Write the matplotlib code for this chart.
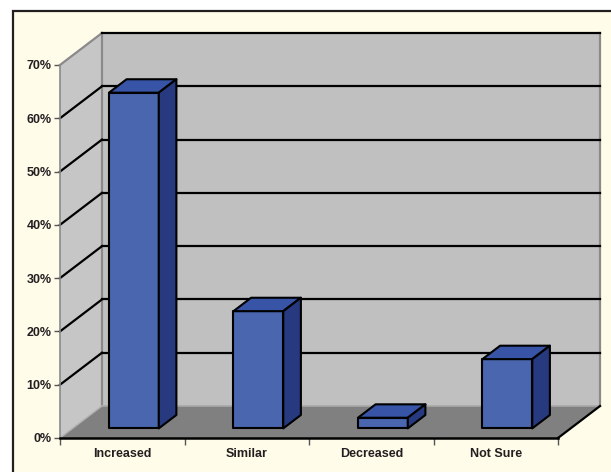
import matplotlib
matplotlib.use("Agg")
import matplotlib.pyplot as plt
from matplotlib.patches import Polygon, Rectangle

categories = ["Increased", "Similar", "Decreased", "Not Sure"]
values = [63, 22, 2, 13]
ytick_values = [0, 10, 20, 30, 40, 50, 60, 70]
ytick_labels = ["0%", "10%", "20%", "30%", "40%", "50%", "60%", "70%"]

plt.rcParams['font.family'] = ['Liberation Sans', 'DejaVu Sans']

W, H = 611, 472
fig = plt.figure(figsize=(W / 100, H / 100), dpi=100)
fig.patch.set_facecolor("white")

# cream panel with border (top and left visible)
panel = Rectangle((13 / W, -0.1), 1.0, (H - 11) / H + 0.1, transform=fig.transFigure,
                  facecolor="#FFFCEA", edgecolor="#231F20", linewidth=1.6, zorder=0)
fig.add_artist(panel)

ax_left, ax_right, ax_bottom, ax_top = 60, 600, 438, 33
ax = fig.add_axes([ax_left / W, (H - ax_bottom) / H, (ax_right - ax_left) / W, (ax_bottom - ax_top) / H])
ax.patch.set_visible(False)

n = len(categories)
ymax = 70
DX = 0.3373   # depth offset in category units
DY = 6.0      # depth offset in value units
ax.set_xlim(0, n + DX)
ax.set_ylim(0, ymax + DY)

wall_back = "#C0C0C0"
wall_left = "#C6C6C6"
floor_c = "#808080"
edge_gray = "#8A8A8A"

# walls and floor
ax.add_patch(Polygon([(DX, DY), (n + DX, DY), (n + DX, ymax + DY), (DX, ymax + DY)],
                     closed=True, facecolor=wall_back, edgecolor="none", zorder=1))
ax.add_patch(Polygon([(0, 0), (0, ymax), (DX, ymax + DY), (DX, DY)],
                     closed=True, facecolor=wall_left, edgecolor="none", zorder=1))
ax.add_patch(Polygon([(0, 0), (n, 0), (n + DX, DY), (DX, DY)],
                     closed=True, facecolor=floor_c, edgecolor="none", zorder=1))

# wall edges
ax.plot([DX, DX], [DY, ymax + DY], color=edge_gray, lw=1.6, zorder=2, clip_on=False)
ax.plot([n + DX, n + DX], [DY, ymax + DY], color=edge_gray, lw=1.6, zorder=2, clip_on=False)
ax.plot([0, DX], [ymax, ymax + DY], color=edge_gray, lw=1.6, zorder=2, clip_on=False)
ax.plot([DX, n + DX], [DY, DY], color="#A8A8A8", lw=1.2, zorder=2, clip_on=False)
ax.plot([0, DX], [0, DY], color="#B0B0B0", lw=1.0, zorder=2, clip_on=False)

# gridlines
for v in ytick_values[1:]:
    ax.plot([DX, n + DX], [v + DY, v + DY], color="black", lw=1.6, zorder=3, clip_on=False)
    if v < ymax:
        ax.plot([0, DX], [v, v + DY], color="black", lw=1.6, zorder=3, clip_on=False)

# floor front-right edge
ax.plot([n, n + DX], [0, DY], color="black", lw=1.6, zorder=3, clip_on=False)

# bars
f0, f1 = 0.30, 0.72
bw = 0.4
c_front = "#4966AE"
c_top = "#3754A6"
c_side = "#27397F"
for i, v in enumerate(values):
    x0 = i + 0.5 - bw / 2 + f0 * DX - 0.008
    x1 = x0 + bw
    y0 = f0 * DY
    y1 = y0 + v
    ddx = (f1 - f0) * DX
    ddy = (f1 - f0) * DY
    kw = dict(closed=True, edgecolor="black", linewidth=1.5, joinstyle="round", zorder=5 + i)
    ax.add_patch(Polygon([(x0, y0), (x1, y0), (x1, y1), (x0, y1)], facecolor=c_front, **kw))
    ax.add_patch(Polygon([(x0, y1), (x1, y1), (x1 + ddx, y1 + ddy), (x0 + ddx, y1 + ddy)], facecolor=c_top, **kw))
    ax.add_patch(Polygon([(x1, y0), (x1 + ddx, y0 + ddy), (x1 + ddx, y1 + ddy), (x1, y1)], facecolor=c_side, **kw))

# axes spines and ticks
for s in ["top", "right"]:
    ax.spines[s].set_visible(False)
ax.spines["left"].set_bounds(0, ymax)
ax.spines["left"].set_color(edge_gray)
ax.spines["left"].set_linewidth(1.2)
ax.spines["left"].set_zorder(4)
ax.spines["bottom"].set_bounds(0, n)
ax.spines["bottom"].set_color("black")
ax.spines["bottom"].set_linewidth(1.8)
ax.spines["bottom"].set_zorder(4)

ax.set_yticks(ytick_values)
ax.set_yticklabels(ytick_labels)
ax.tick_params(axis="y", which="major", length=4, width=1, color="#555555",
               labelsize=9, labelcolor="#231F20", pad=2)
for t in ax.get_yticklabels():
    t.set_fontweight("bold")

ax.set_xticks(list(range(n + 1)))
ax.set_xticklabels([""] * (n + 1))
ax.set_xticks([i + 0.5 for i in range(n)], minor=True)
ax.set_xticklabels(categories, minor=True)
ax.tick_params(axis="x", which="major", length=5, width=1, color="#555555")
ax.tick_params(axis="x", which="minor", length=0, labelsize=9, labelcolor="#231F20", pad=7)
for t in ax.get_xticklabels(minor=True):
    t.set_fontweight("bold")

fig.savefig("out.png", dpi=100)
